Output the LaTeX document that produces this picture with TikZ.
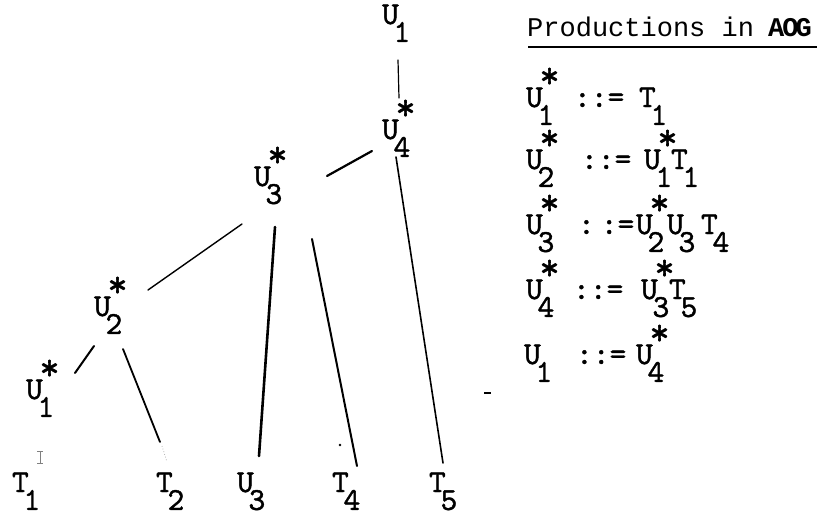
\documentclass[tikz,border=0pt]{standalone}
\usepackage{fontspec}
\usepackage{graphicx}
\newfontfamily\headfont{Liberation Mono}
\newfontfamily\symfont{lmmono10-regular.otf}[FakeBold=1.2]
\newcommand\sy[3]{#1\kern-0.165em\rlap{\kern0.06em\raisebox{0.6em}{\scalebox{1.2}{#3}}}\raisebox{-0.56em}{#2}}
\tikzset{
  lab/.style={anchor=base west, inner sep=0pt, outer sep=0pt, font=\fontsize{32}{38}\symfont},
  head/.style={anchor=base west, inner sep=0pt, font=\fontsize{27}{32}\headfont},
  edge/.style={line width=#1, line cap=round},
}
\begin{document}
\begin{tikzpicture}[x=1pt,y=-1pt]
\useasboundingbox (0,0) rectangle (820,517);
% tree labels
\node[lab] (ua) at (382,24) {\sy{U}{1}{}};
\node[lab] (u4s) at (382,139) {\sy{U}{4}{*}};
\node[lab] (u3s) at (254,186) {\sy{U}{3}{*}};
\node[lab] (u2s) at (94,316) {\sy{U}{2}{*}};
\node[lab] (u1s) at (26,399) {\sy{U}{1}{*}};
\node[lab] (t1) at (12,492) {\sy{T}{1}{}};
\node[lab] (t2) at (156,492) {\sy{T}{2}{}};
\node[lab] (u3) at (237,492) {\sy{U}{3}{}};
\node[lab] (t4) at (332,492) {\sy{T}{4}{}};
\node[lab] (t5) at (429,492) {\sy{T}{5}{}};
% connector ends
\coordinate (a1) at (398,60);  \coordinate (a2) at (399,98);
\coordinate (b1) at (372,151); \coordinate (b2) at (327,176);
\coordinate (c1) at (396,157); \coordinate (c2) at (443,463);
\coordinate (d1) at (242,224); \coordinate (d2) at (148,290);
\coordinate (e1) at (275,227); \coordinate (e2) at (259,456);
\coordinate (f1) at (312,239); \coordinate (f2) at (357,466);
\coordinate (g1) at (94,346);  \coordinate (g2) at (75,373);
\coordinate (h1) at (123,349); \coordinate (h2) at (160,442);
\draw[edge=1.2pt] (a1) -- (a2);
\draw[edge=2.2pt] (b1) -- (b2);
\draw[edge=1.6pt] (c1) -- (c2);
\draw[edge=1.4pt] (d1) -- (d2);
\draw[edge=2.6pt] (e1) -- (e2);
\draw[edge=2pt] (f1) -- (f2);
\draw[edge=2pt] (g1) -- (g2);
\draw[edge=1.8pt] (h1) -- (h2);
% stray marks
\coordinate (m1) at (40,451); \coordinate (m2) at (40,463);
\draw[gray, line width=1pt] (m1) -- (m2);
\draw[gray, line width=0.8pt] (37,451) -- (43,451) (37,463) -- (43,463);
\draw[gray!60, line width=0.8pt, dotted] (162,446) -- (167,462);
\fill (340,445) circle (1.4);
\draw[line width=1.5pt] (484,393) -- (491,393);
% productions
\node[head] (hd) at (527,36) {Productions in \kern-2pt{\bfseries A\kern-2pt O\kern-3pt G}};
\coordinate (ul1) at (528,47); \coordinate (ul2) at (817,47);
\draw[line width=2pt] (ul1) -- (ul2);
\node[lab] (p1l) at (526,107) {\sy{U}{1}{*}};
\node[lab] (p1e) at (574,107) {::=};
\node[lab] (p1r) at (639,107) {\sy{T}{1}{}};
\node[lab] (p2l) at (526,169) {\sy{U}{2}{*}};
\node[lab] (p2e) at (581,169) {::=};
\node[lab] (p2r) at (644,169) {\sy{U}{1}{*}};
\node[lab] (p2s) at (671,169) {\sy{T}{1}{}};
\node[lab] (p3l) at (526,234) {\sy{U}{3}{*}};
\node[lab] (p3e) at (578,234) {:\kern6pt:=};
\node[lab] (p3a) at (636,234) {\sy{U}{2}{*}};
\node[lab] (p3b) at (667,234) {\sy{U}{3}{}};
\node[lab] (p3c) at (701,234) {\sy{T}{4}{}};
\node[lab] (p4l) at (526,299) {\sy{U}{4}{*}};
\node[lab] (p4e) at (573,299) {::=};
\node[lab] (p4a) at (641,299) {\sy{U}{3}{*}};
\node[lab] (p4b) at (669,299) {\sy{T}{5}{}};
\node[lab] (p5l) at (524,364) {\sy{U}{1}{}};
\node[lab] (p5e) at (576,364) {::=};
\node[lab] (p5r) at (636,364) {\sy{U}{4}{*}};
\end{tikzpicture}
\end{document}
